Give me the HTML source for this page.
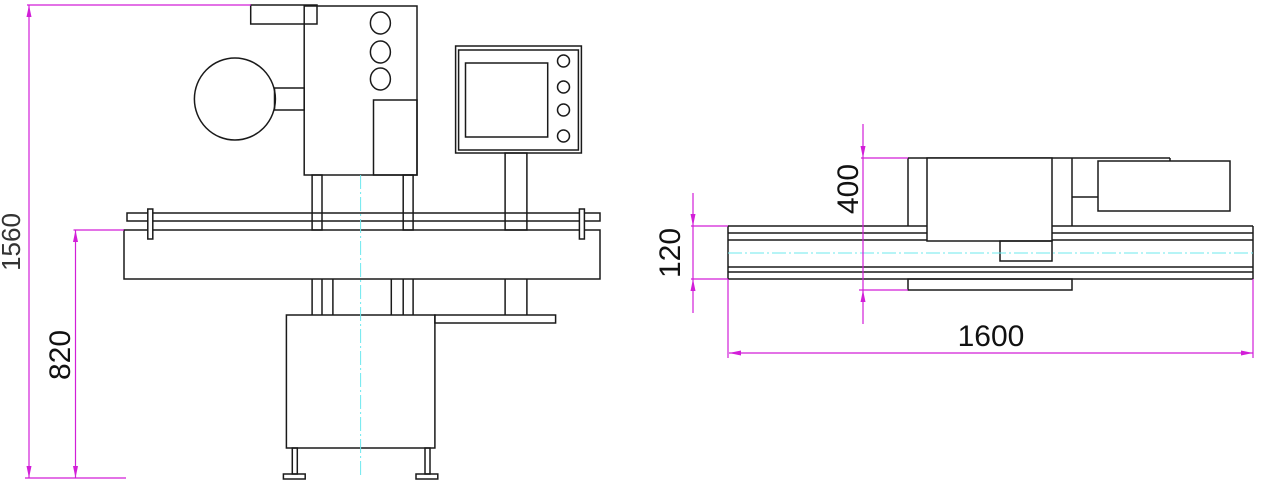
<!DOCTYPE html>
<html><head><meta charset="utf-8"><style>
html,body{margin:0;padding:0;background:#fff;}
svg{display:block;}
text{font-family:"Liberation Sans",sans-serif;}
</style></head><body>
<svg width="1267" height="502" viewBox="0 0 1267 502" xmlns="http://www.w3.org/2000/svg">
<g fill="none" stroke="#1a1a1a" stroke-width="1.5">
<!-- left view -->
<rect x="250.7" y="5" width="66.3" height="19"/>
<rect x="304.2" y="6" width="112.8" height="169"/>
<ellipse cx="380.4" cy="23" rx="10" ry="11"/>
<ellipse cx="380.4" cy="52" rx="10" ry="11"/>
<ellipse cx="380.4" cy="79" rx="10" ry="11"/>
<rect x="373.5" y="100" width="43.5" height="75"/>
<ellipse cx="234.9" cy="99" rx="40.5" ry="41"/>
<rect x="274.5" y="88" width="29.7" height="22"/>
<rect x="312.1" y="175" width="9.9" height="55"/>
<rect x="403.2" y="175" width="9.9" height="55"/>
<rect x="455.6" y="46" width="125.8" height="107"/>
<rect x="458.6" y="50" width="119.8" height="100"/>
<rect x="465.5" y="63" width="82.2" height="74"/>
<ellipse cx="563.5" cy="61" rx="6" ry="6"/>
<ellipse cx="563.5" cy="87" rx="6" ry="6"/>
<ellipse cx="563.5" cy="110" rx="6" ry="6"/>
<ellipse cx="563.5" cy="136" rx="6" ry="6"/>
<rect x="505.1" y="153" width="21.8" height="77"/>
<rect x="124" y="230" width="476" height="49"/>
<rect x="127" y="213" width="473" height="8"/>
<rect x="147.8" y="209" width="5" height="30" fill="#fff"/>
<rect x="579.4" y="209" width="5" height="30" fill="#fff"/>
<line x1="312.1" y1="279" x2="312.1" y2="315"/><line x1="322" y1="279" x2="322" y2="315"/><line x1="332.9" y1="279" x2="332.9" y2="315"/>
<line x1="391.3" y1="279" x2="391.3" y2="315"/><line x1="403.2" y1="279" x2="403.2" y2="315"/><line x1="413.1" y1="279" x2="413.1" y2="315"/>
<line x1="505.1" y1="279" x2="505.1" y2="315"/><line x1="526.9" y1="279" x2="526.9" y2="315"/>
<rect x="286.4" y="315" width="148.5" height="133"/>
<rect x="434.9" y="315" width="120.7" height="8"/>
<rect x="292.3" y="448" width="5" height="26"/>
<rect x="425" y="448" width="5" height="26"/>
<rect x="283.4" y="474" width="21.8" height="5"/>
<rect x="416" y="474" width="21.8" height="5"/>
<!-- right view -->
<line x1="728" y1="226" x2="1253" y2="226"/>
<line x1="728" y1="233" x2="1253" y2="233"/>
<line x1="728" y1="240" x2="1253" y2="240"/>
<line x1="728" y1="267" x2="1253" y2="267"/>
<line x1="728" y1="272" x2="1253" y2="272"/>
<line x1="728" y1="279" x2="1253" y2="279"/>
<line x1="728" y1="226" x2="728" y2="279"/>
<line x1="1253" y1="226" x2="1253" y2="279"/>
<line x1="908" y1="158" x2="908" y2="226"/>
<line x1="1072" y1="158" x2="1072" y2="226"/>
<line x1="908" y1="158" x2="1170" y2="158"/>
<line x1="1170" y1="158" x2="1170" y2="161"/>
<rect x="927" y="158" width="125" height="83" fill="#fff"/>
<rect x="1000" y="241" width="52" height="20"/>
<rect x="908" y="279" width="164" height="11"/>
<rect x="1098" y="161" width="132" height="50"/>
<line x1="1072" y1="197" x2="1098" y2="197"/>
</g>
<!-- centerlines -->
<g stroke="#6ee8ee" stroke-width="1" stroke-dasharray="14,3,2,3" fill="none">
<line x1="360.6" y1="175" x2="360.6" y2="478"/>
<line x1="728" y1="253" x2="1253" y2="253"/>
</g>
<!-- dimensions -->
<g stroke="#d21ed8" stroke-width="1.2" fill="none">
<line x1="29" y1="5" x2="29" y2="478"/>
<line x1="27" y1="5" x2="251" y2="5"/>
<line x1="75.5" y1="230" x2="75.5" y2="478"/>
<line x1="73.5" y1="230" x2="124" y2="230"/>
<line x1="25" y1="478" x2="126" y2="478"/>
<line x1="863" y1="124" x2="863" y2="324"/>
<line x1="861" y1="158" x2="908" y2="158"/>
<line x1="859" y1="290" x2="908" y2="290"/>
<line x1="693" y1="193" x2="693" y2="313"/>
<line x1="691" y1="226" x2="728" y2="226"/>
<line x1="691" y1="279" x2="728" y2="279"/>
<line x1="729" y1="353" x2="1253" y2="353"/>
<line x1="728" y1="279" x2="728" y2="358"/>
<line x1="1253" y1="279" x2="1253" y2="358"/>
</g>
<g fill="#d21ed8">
<polygon points="29,5 26.5,17 31.5,17"/>
<polygon points="29,478 26.5,466 31.5,466"/>
<polygon points="75.5,230 73,242 78,242"/>
<polygon points="75.5,478 73,466 78,466"/>
<polygon points="863,158 860.5,146 865.5,146"/>
<polygon points="863,290 860.5,302 865.5,302"/>
<polygon points="693,226 690.5,214 695.5,214"/>
<polygon points="693,279 690.5,291 695.5,291"/>
<polygon points="729,353 741,350.5 741,355.5"/>
<polygon points="1253,353 1241,350.5 1241,355.5"/>
</g>
<g fill="#111" text-anchor="middle">
<text x="0" y="0" font-size="26" fill="#333" transform="translate(20,242) rotate(-90)">1560</text>
<text x="0" y="0" font-size="30" transform="translate(70,355) rotate(-90)">820</text>
<text x="0" y="0" font-size="30" transform="translate(858,189) rotate(-90)">400</text>
<text x="0" y="0" font-size="30" transform="translate(680,253) rotate(-90)">120</text>
<text x="991" y="346" font-size="30">1600</text>
</g>
</svg>
</body></html>
